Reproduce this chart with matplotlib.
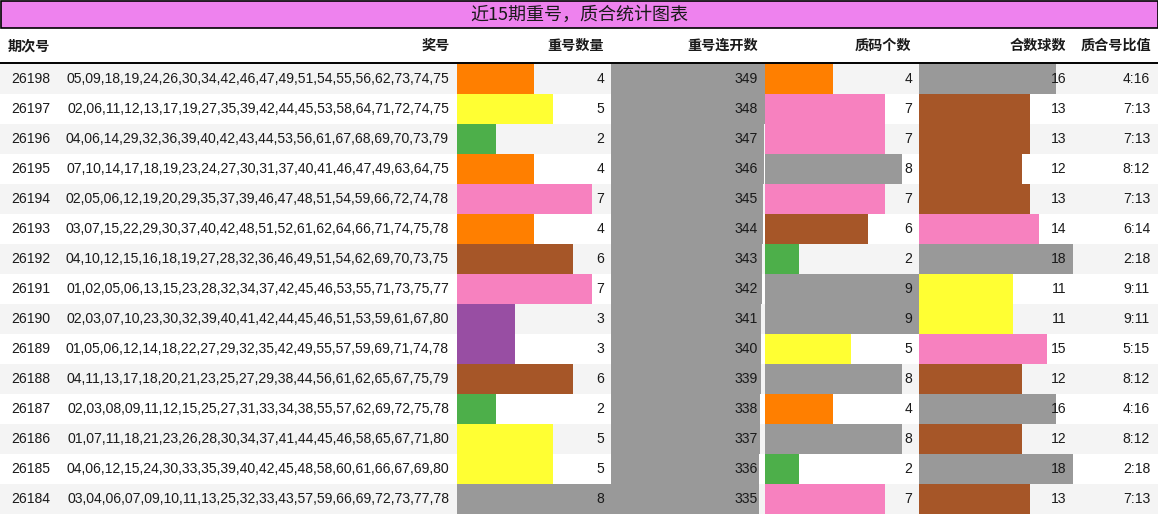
"""
近15期重号，质合统计图表 - table with data bars
"""

import numpy as np
import matplotlib
matplotlib.use('Agg')
import matplotlib.pyplot as plt
from matplotlib.patches import Rectangle

plt.rcParams['font.family'] = ['Liberation Sans', 'Noto Sans CJK SC', 'DejaVu Sans']

# ─────────────────────────────────────────────────────────────────────────────
# DATA
# ─────────────────────────────────────────────────────────────────────────────
title = "近15期重号，质合统计图表"
headers = ["期次号", "奖号", "重号数量", "重号连开数", "质码个数", "合数球数", "质合号比值"]

issues = ["26198", "26197", "26196", "26195", "26194", "26193", "26192", "26191",
          "26190", "26189", "26188", "26187", "26186", "26185", "26184"]
draws = [
    "05,09,18,19,24,26,30,34,42,46,47,49,51,54,55,56,62,73,74,75",
    "02,06,11,12,13,17,19,27,35,39,42,44,45,53,58,64,71,72,74,75",
    "04,06,14,29,32,36,39,40,42,43,44,53,56,61,67,68,69,70,73,79",
    "07,10,14,17,18,19,23,24,27,30,31,37,40,41,46,47,49,63,64,75",
    "02,05,06,12,19,20,29,35,37,39,46,47,48,51,54,59,66,72,74,78",
    "03,07,15,22,29,30,37,40,42,48,51,52,61,62,64,66,71,74,75,78",
    "04,10,12,15,16,18,19,27,28,32,36,46,49,51,54,62,69,70,73,75",
    "01,02,05,06,13,15,23,28,32,34,37,42,45,46,53,55,71,73,75,77",
    "02,03,07,10,23,30,32,39,40,41,42,44,45,46,51,53,59,61,67,80",
    "01,05,06,12,14,18,22,27,29,32,35,42,49,55,57,59,69,71,74,78",
    "04,11,13,17,18,20,21,23,25,27,29,38,44,56,61,62,65,67,75,79",
    "02,03,08,09,11,12,15,25,27,31,33,34,38,55,57,62,69,72,75,78",
    "01,07,11,18,21,23,26,28,30,34,37,41,44,45,46,58,65,67,71,80",
    "04,06,12,15,24,30,33,35,39,40,42,45,48,58,60,61,66,67,69,80",
    "03,04,06,07,09,10,11,13,25,32,33,43,57,59,66,69,72,73,77,78",
]
repeat_count = [4, 5, 2, 4, 7, 4, 6, 7, 3, 3, 6, 2, 5, 5, 8]
repeat_streak = [349, 348, 347, 346, 345, 344, 343, 342, 341, 340, 339, 338, 337, 336, 335]
prime_count = [4, 7, 7, 8, 7, 6, 2, 9, 9, 5, 8, 4, 8, 2, 7]
composite_count = [16, 13, 13, 12, 13, 14, 18, 11, 11, 15, 12, 16, 12, 18, 13]
ratio = ["4:16", "7:13", "7:13", "8:12", "7:13", "6:14", "2:18", "9:11",
         "9:11", "5:15", "8:12", "4:16", "8:12", "2:18", "7:13"]

# ─────────────────────────────────────────────────────────────────────────────
# LAYOUT / STYLE
# ─────────────────────────────────────────────────────────────────────────────
W, H = 1158, 515
set1 = ['#e41a1c', '#377eb8', '#4daf4a', '#984ea3', '#ff7f00',
        '#ffff33', '#a65628', '#f781bf', '#999999']
row_h = 30
top = 64
col_w = 154
bar_cols = [(457, repeat_count), (611, repeat_streak), (765, prime_count), (919, composite_count)]
text_color = '#1a1a1a'
num_font = 10.1


def bar_color(v, vmax):
    # colour bucket = share of the column max, on a 9-step Set1 scale
    idx = min(int(np.floor(v / vmax * 9)), 8)
    return set1[idx]


fig = plt.figure(figsize=(W / 100, H / 100), dpi=100)
ax = fig.add_axes([0, 0, 1, 1])
ax.set_xlim(0, W)
ax.set_ylim(H, 0)
ax.axis('off')

n = len(issues)
y_rows = top + row_h * np.arange(n) + row_h / 2

# row stripes
stripe = ['#f4f4f4' if i % 2 == 0 else 'white' for i in range(n)]
ax.barh(y_rows, W, left=0, height=row_h, color=stripe, zorder=0)

# data bars
for x0, vals in bar_cols:
    vmax = max(vals)
    widths = [v / vmax * col_w for v in vals]
    cols = [bar_color(v, vmax) for v in vals]
    ax.barh(y_rows, widths, left=x0, height=row_h, color=cols, zorder=1)
    for y, v in zip(y_rows, vals):
        ax.text(x0 + col_w - 7, y, str(v), ha='right', va='center',
                fontsize=num_font, color=text_color, zorder=3)

for y, iss, dr, r in zip(y_rows, issues, draws, ratio):
    ax.text(50, y, iss, ha='right', va='center', fontsize=num_font, color=text_color)
    ax.text(449, y, dr, ha='right', va='center', fontsize=num_font, color=text_color)
    ax.text(1150, y, r, ha='right', va='center', fontsize=num_font, color=text_color)

# title box
ax.add_patch(Rectangle((0.5, 0.5), W - 1, 27, facecolor='#ee82ee',
                       edgecolor='black', lw=1.2, zorder=2))
ax.text(W / 2, 14.5, title, ha='center', va='center', fontsize=13.0,
        family=['Noto Sans CJK SC'], color=text_color, zorder=3)

# header row
hdr_kw = dict(va='center', fontsize=10.2, fontweight='bold',
              family=['Noto Sans CJK SC'], color=text_color)
ax.text(8, 46, headers[0], ha='left', **hdr_kw)
hdr_right = [450, 604, 758, 911, 1066, 1151]
for x, h in zip(hdr_right, headers[1:]):
    ax.text(x, 46, h, ha='right', **hdr_kw)
ax.plot([0, W], [63.3, 63.3], color='black', lw=1.4, zorder=3)

plt.savefig('out.png', dpi=100, facecolor='white')
